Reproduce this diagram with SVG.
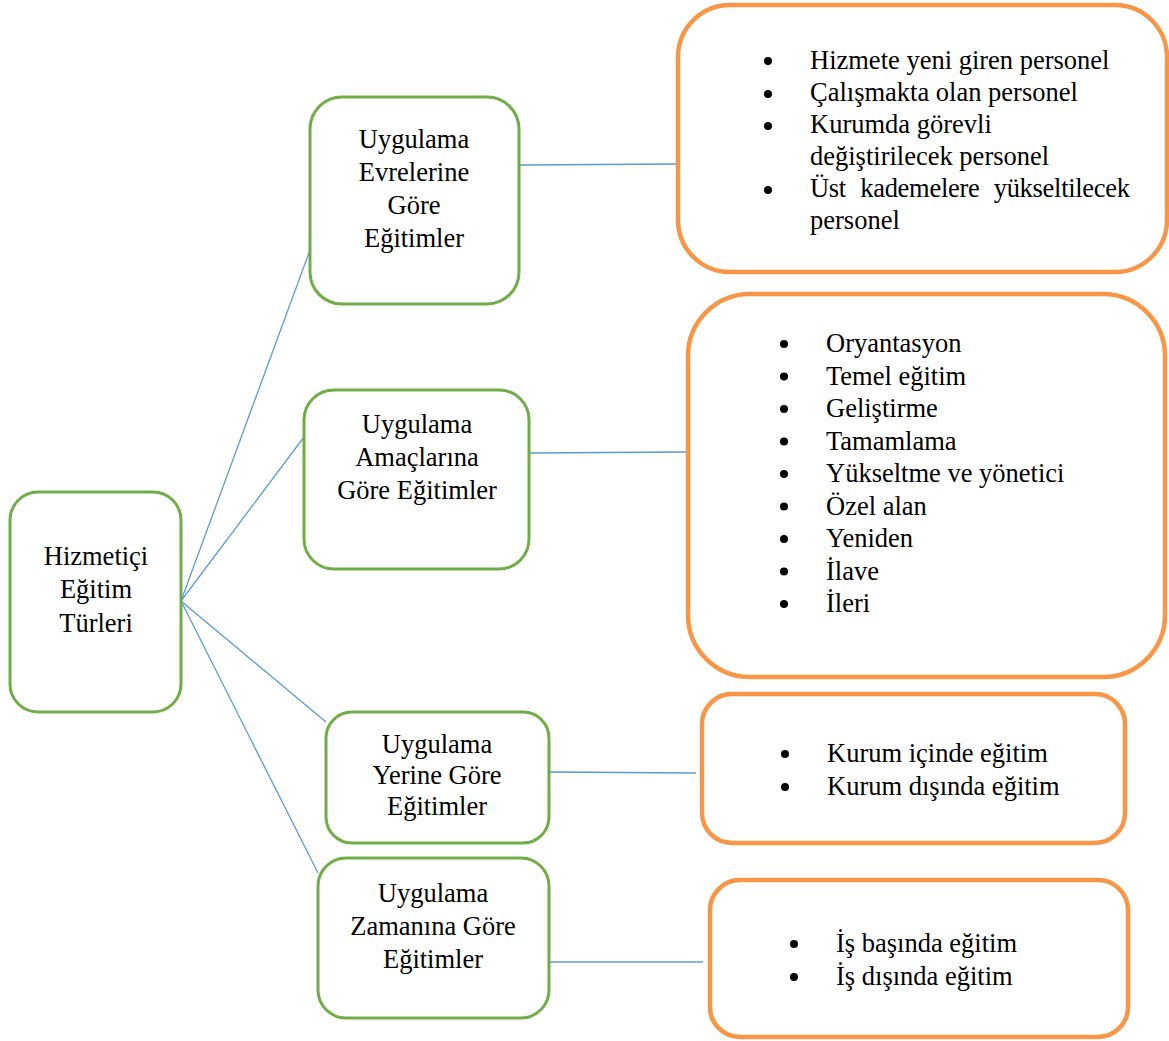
<svg xmlns="http://www.w3.org/2000/svg" width="1169" height="1041" viewBox="0 0 1169 1041">
<style>
.g{fill:#fff;stroke:#70AD47;stroke-width:3}
.o{fill:#fff;stroke:#F79646;stroke-width:4.5}
.c{stroke:#5B9BD5;stroke-width:1.3;fill:none}
text{font-family:"Liberation Serif","Times New Roman",serif;font-size:26.5px;fill:#000}
.m{text-anchor:middle}
.b{fill:#000}
</style>
<rect width="1169" height="1041" fill="#fff"/>
<g id="connectors">
<line class="c" x1="181" y1="601" x2="310" y2="250"/>
<line class="c" x1="181" y1="601" x2="304" y2="437"/>
<line class="c" x1="181" y1="601" x2="326" y2="722"/>
<line class="c" x1="181" y1="601" x2="318" y2="873"/>
<line class="c" x1="519" y1="165" x2="679" y2="164"/>
<line class="c" x1="529" y1="453" x2="688" y2="452"/>
<line class="c" x1="549" y1="772" x2="696" y2="773"/>
<line class="c" x1="549" y1="962" x2="703" y2="962"/>
</g>
<g id="root">
<rect class="g" x="10" y="492" width="171" height="220" rx="28"/>
<text class="m" x="96" y="565">Hizmetiçi</text>
<text class="m" x="96" y="598">Eğitim</text>
<text class="m" x="96" y="632">Türleri</text>
</g>
<g id="n1">
<rect class="g" x="310" y="97" width="209" height="207" rx="32"/>
<text class="m" x="414" y="148">Uygulama</text>
<text class="m" x="414" y="181">Evrelerine</text>
<text class="m" x="414" y="214">Göre</text>
<text class="m" x="414" y="247">Eğitimler</text>
</g>
<g id="n2">
<rect class="g" x="304" y="390" width="225" height="179" rx="30"/>
<text class="m" x="417" y="433">Uygulama</text>
<text class="m" x="417" y="466">Amaçlarına</text>
<text class="m" x="417" y="499">Göre Eğitimler</text>
</g>
<g id="n3">
<rect class="g" x="326" y="712" width="223" height="131" rx="26"/>
<text class="m" x="437" y="753">Uygulama</text>
<text class="m" x="437" y="784">Yerine Göre</text>
<text class="m" x="437" y="815">Eğitimler</text>
</g>
<g id="n4">
<rect class="g" x="318" y="858" width="231" height="160" rx="28"/>
<text class="m" x="433" y="902">Uygulama</text>
<text class="m" x="433" y="935">Zamanına Göre</text>
<text class="m" x="433" y="968">Eğitimler</text>
</g>
<g id="o1">
<rect class="o" x="678" y="5" width="489" height="267" rx="52"/>
<circle class="b" cx="768" cy="61" r="4"/>
<circle class="b" cx="768" cy="94" r="4"/>
<circle class="b" cx="768" cy="126" r="4"/>
<circle class="b" cx="768" cy="190" r="4"/>
<text x="810" y="69">Hizmete yeni giren personel</text>
<text x="810" y="101">Çalışmakta olan personel</text>
<text x="810" y="133">Kurumda görevli</text>
<text x="810" y="165">değiştirilecek personel</text>
<text x="810" y="197" textLength="320" lengthAdjust="spacing" word-spacing="8">Üst kademelere yükseltilecek</text>
<text x="810" y="229">personel</text>
</g>
<g id="o2">
<rect class="o" x="688" y="294" width="477" height="383" rx="62"/>
<circle class="b" cx="784" cy="344" r="4"/>
<circle class="b" cx="784" cy="376.5" r="4"/>
<circle class="b" cx="784" cy="409" r="4"/>
<circle class="b" cx="784" cy="441.5" r="4"/>
<circle class="b" cx="784" cy="474" r="4"/>
<circle class="b" cx="784" cy="506.5" r="4"/>
<circle class="b" cx="784" cy="539" r="4"/>
<circle class="b" cx="784" cy="571.5" r="4"/>
<circle class="b" cx="784" cy="604" r="4"/>
<text x="826" y="352">Oryantasyon</text>
<text x="826" y="384.5">Temel eğitim</text>
<text x="826" y="417">Geliştirme</text>
<text x="826" y="449.5">Tamamlama</text>
<text x="826" y="482">Yükseltme ve yönetici</text>
<text x="826" y="514.5">Özel alan</text>
<text x="826" y="547">Yeniden</text>
<text x="826" y="579.5">İlave</text>
<text x="826" y="612">İleri</text>
</g>
<g id="o3">
<rect class="o" x="702" y="694" width="423" height="149" rx="30"/>
<circle class="b" cx="785" cy="754" r="4"/>
<circle class="b" cx="785" cy="787" r="4"/>
<text x="827" y="762">Kurum içinde eğitim</text>
<text x="827" y="795">Kurum dışında eğitim</text>
</g>
<g id="o4">
<rect class="o" x="710" y="880" width="418" height="157" rx="30"/>
<circle class="b" cx="794" cy="944" r="4"/>
<circle class="b" cx="794" cy="977" r="4"/>
<text x="836" y="952">İş başında eğitim</text>
<text x="836" y="985">İş dışında eğitim</text>
</g>
</svg>
